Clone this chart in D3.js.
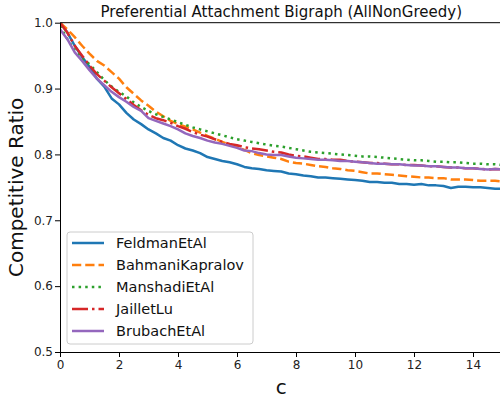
<!DOCTYPE html>
<html><head><meta charset="utf-8">
<script src="https://cdn.jsdelivr.net/npm/d3@7"></script>
<style>body{margin:0;background:#fff}text{font-family:"DejaVu Sans",sans-serif}</style>
</head><body><svg id="c" width="500" height="399"></svg>
<script>
const cValues = [0,0.25,0.5,0.75,1,1.25,1.5,1.75,2,2.25,2.5,2.75,3,3.25,3.5,3.75,4,4.25,4.5,4.75,5,5.25,5.5,5.75,6,6.25,6.5,6.75,7,7.25,7.5,7.75,8,8.25,8.5,8.75,9,9.25,9.5,9.75,10,10.25,10.5,10.75,11,11.25,11.5,11.75,12,12.25,12.5,12.75,13,13.25,13.5,13.75,14,14.25,14.5,14.75,15];
const feldman = [1.0,0.985,0.965,0.948,0.933,0.915,0.903,0.885,0.876,0.863,0.853,0.846,0.838,0.832,0.825,0.821,0.814,0.809,0.806,0.802,0.796,0.793,0.790,0.788,0.785,0.781,0.779,0.778,0.776,0.775,0.774,0.771,0.770,0.768,0.767,0.765,0.765,0.764,0.763,0.762,0.761,0.760,0.758,0.758,0.757,0.757,0.755,0.755,0.754,0.755,0.753,0.753,0.752,0.749,0.751,0.751,0.750,0.750,0.749,0.748,0.748];
const bahmani = [1.0,0.99,0.978,0.965,0.953,0.942,0.935,0.925,0.915,0.902,0.892,0.882,0.874,0.865,0.858,0.851,0.846,0.842,0.838,0.833,0.828,0.824,0.819,0.815,0.811,0.807,0.802,0.799,0.797,0.795,0.793,0.789,0.787,0.786,0.784,0.782,0.781,0.779,0.778,0.776,0.775,0.773,0.771,0.771,0.770,0.769,0.768,0.767,0.766,0.765,0.765,0.764,0.764,0.762,0.762,0.762,0.761,0.760,0.760,0.760,0.759];
const manshadi = [0.995,0.975,0.958,0.945,0.937,0.925,0.913,0.903,0.895,0.888,0.879,0.872,0.866,0.861,0.857,0.853,0.849,0.845,0.841,0.838,0.835,0.832,0.829,0.826,0.823,0.821,0.819,0.817,0.815,0.813,0.812,0.810,0.808,0.806,0.804,0.803,0.802,0.801,0.800,0.799,0.798,0.797,0.797,0.796,0.795,0.794,0.793,0.792,0.791,0.791,0.790,0.789,0.789,0.788,0.788,0.787,0.786,0.786,0.785,0.785,0.784];
const jaillet = [1.0,0.985,0.965,0.95,0.935,0.922,0.912,0.902,0.893,0.884,0.875,0.867,0.860,0.855,0.852,0.848,0.843,0.839,0.834,0.830,0.827,0.823,0.819,0.816,0.814,0.811,0.809,0.808,0.806,0.804,0.803,0.800,0.798,0.797,0.795,0.793,0.793,0.792,0.792,0.790,0.789,0.788,0.787,0.787,0.786,0.785,0.785,0.784,0.784,0.783,0.782,0.782,0.781,0.780,0.780,0.779,0.779,0.778,0.777,0.778,0.777];
const brubach = [0.99,0.975,0.955,0.942,0.928,0.915,0.905,0.895,0.887,0.880,0.872,0.866,0.855,0.851,0.847,0.843,0.838,0.832,0.828,0.825,0.821,0.818,0.816,0.813,0.810,0.806,0.805,0.802,0.800,0.799,0.799,0.797,0.795,0.794,0.793,0.792,0.792,0.791,0.790,0.790,0.789,0.788,0.787,0.786,0.786,0.785,0.785,0.784,0.783,0.783,0.782,0.782,0.781,0.780,0.780,0.779,0.779,0.778,0.777,0.778,0.777];
const seriesNames = ["FeldmanEtAl","BahmaniKapralov","ManshadiEtAl","JailletLu","BrubachEtAl"];
const xTicks = [0,2,4,6,8,10,12,14];
const yTicks = [0.5,0.6,0.7,0.8,0.9,1.0];

const series = [feldman,bahmani,manshadi,jaillet,brubach];
const colors = ["#1f77b4","#ff7f0e","#2ca02c","#d62728","#9467bd"];
const dashes = [null,"9.25,4","2.5,4.1","16,4,2.5,4",null];

const svg = d3.select("#c");
const L=60, R=502.5, T=22.7, B=352;
const x = d3.scaleLinear().domain([0,15]).range([L,R]);
const y = d3.scaleLinear().domain([0.5,1.0]).range([B,T]);

svg.append("defs").append("clipPath").attr("id","clip").append("rect")
  .attr("x",L).attr("y",T).attr("width",R-L).attr("height",B-T);

const line = d3.line().x((d,i)=>x(cValues[i])).y(d=>y(d));
const g = svg.append("g").attr("clip-path","url(#clip)");
series.forEach((s,i)=>{
  g.append("path").datum(s).attr("d",line).attr("fill","none")
   .attr("stroke",colors[i]).attr("stroke-width",2.5)
   .attr("stroke-dasharray",dashes[i]).attr("stroke-linecap","butt").attr("stroke-linejoin","round");
});

const xAxis = svg.append("g").attr("transform",`translate(0,${B})`)
  .call(d3.axisBottom(x).tickValues(xTicks).tickFormat(d3.format("d")).tickSize(5).tickSizeOuter(0));
const yAxis = svg.append("g").attr("transform",`translate(${L},0)`)
  .call(d3.axisLeft(y).tickValues(yTicks).tickFormat(d3.format(".1f")).tickSize(5).tickSizeOuter(0));
[xAxis,yAxis].forEach(a=>{
  a.selectAll("text").attr("font-size",12).attr("fill","#222").attr("font-family","DejaVu Sans");
  a.select(".domain").attr("stroke","#000").attr("stroke-width",1);
  a.selectAll(".tick line").attr("stroke","#000");
});
xAxis.selectAll("text").attr("dy","0.85em").attr("y",7);
yAxis.selectAll("text").attr("x",-7);
svg.append("line").attr("x1",L).attr("x2",R).attr("y1",T).attr("y2",T).attr("stroke","#000");

svg.append("text").attr("x",(L+R)/2).attr("y",17).attr("text-anchor","middle")
  .attr("font-size",15).attr("fill","#111").text("Preferential Attachment Bigraph (AllNonGreedy)");
svg.append("text").attr("x",(L+R)/2).attr("y",394).attr("text-anchor","middle")
  .attr("font-size",20).attr("fill","#111").text("c");
svg.append("text").attr("transform",`translate(23,${(T+B)/2}) rotate(-90)`).attr("text-anchor","middle")
  .attr("font-size",20).attr("fill","#111").text("Competitive Ratio");

const lg = svg.append("g");
lg.append("rect").attr("x",67).attr("y",232).attr("width",186).attr("height",112).attr("rx",3)
  .attr("fill","#fff").attr("fill-opacity",0.8).attr("stroke","#ccc");
seriesNames.forEach((n,i)=>{
  const yy = 243 + i*22;
  lg.append("line").attr("x1",72).attr("x2",104).attr("y1",yy).attr("y2",yy)
    .attr("stroke",colors[i]).attr("stroke-width",2.5).attr("stroke-dasharray",dashes[i]);
  lg.append("text").attr("x",116).attr("y",yy).attr("dy","0.35em").attr("font-size",14.5)
    .attr("fill","#111").text(n);
});
</script></body></html>
